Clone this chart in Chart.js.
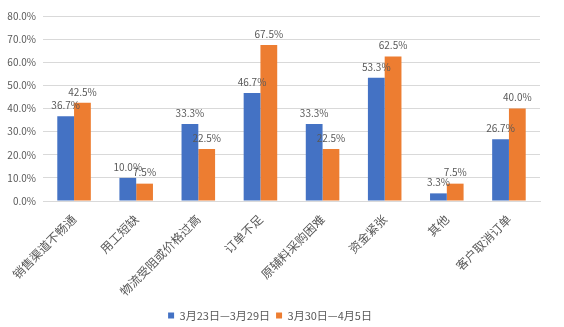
<!DOCTYPE html>
<html><head><meta charset="utf-8">
<script src="https://cdn.jsdelivr.net/npm/chart.js@4"></script>
<style>html,body{margin:0;padding:0;background:#fff}#wrap{width:564px;height:327px}</style>
</head><body><div id="wrap"><canvas id="c" width="564" height="327"></canvas></div>
<script>
const categories = ["销售渠道不畅通","用工短缺","物流受阻或价格过高","订单不足","原辅料采购困难","资金紧张","其他","客户取消订单"];
const seriesNames = ["3月23日—3月29日","3月30日—4月5日"];
const week1 = [36.7,10.0,33.3,46.7,33.3,53.3,3.3,26.7];
const week2 = [42.5,7.5,22.5,67.5,22.5,62.5,7.5,40.0];
const FONT = "'Noto Sans CJK SC', 'Noto Sans', sans-serif";
const GRAY = "#595959";

const labelPlugin = {
  id: 'vals',
  afterDatasetsDraw(chart) {
    const ctx = chart.ctx;
    ctx.save();
    ctx.font = "10px " + FONT;
    ctx.fillStyle = GRAY;
    ctx.textAlign = 'center';
    ctx.textBaseline = 'bottom';
    chart.data.datasets.forEach((ds, i) => {
      chart.getDatasetMeta(i).data.forEach((bar, j) => {
        ctx.fillText(ds.data[j].toFixed(1) + '%', bar.x, bar.y - 6);
      });
    });
    ctx.restore();
  }
};

new Chart(document.getElementById('c'), {
  type: 'bar',
  data: {
    labels: categories,
    datasets: [
      {label: seriesNames[0], data: week1, backgroundColor: '#4472C4'},
      {label: seriesNames[1], data: week2, backgroundColor: '#ED7D31'}
    ]
  },
  options: {
    responsive: false,
    animation: false,
    layout: {padding: {left: 0, right: 24, top: 16, bottom: -4}},
    datasets: {bar: {categoryPercentage: 0.54, barPercentage: 1}},
    scales: {
      x: {
        grid: {display: false},
        border: {color: '#d9d9d9'},
        ticks: {minRotation: 45, maxRotation: 45, color: GRAY, font: {family: FONT, size: 12}, padding: 3},
        afterFit(s) { s.height = 103; }
      },
      y: {
        min: 0, max: 80,
        grid: {color: '#d9d9d9', drawTicks: false},
        border: {display: false},
        ticks: {stepSize: 10, color: GRAY, font: {family: FONT, size: 10}, padding: 7,
          callback: v => v.toFixed(1) + '%'},
        afterFit(s) { s.width = 43; }
      }
    },
    plugins: {
      legend: {position: 'bottom',
        labels: {boxWidth: 6, boxHeight: 6, color: GRAY, font: {family: FONT, size: 11}, padding: 6}},
      tooltip: {enabled: false}
    }
  },
  plugins: [labelPlugin]
});
</script></body></html>
